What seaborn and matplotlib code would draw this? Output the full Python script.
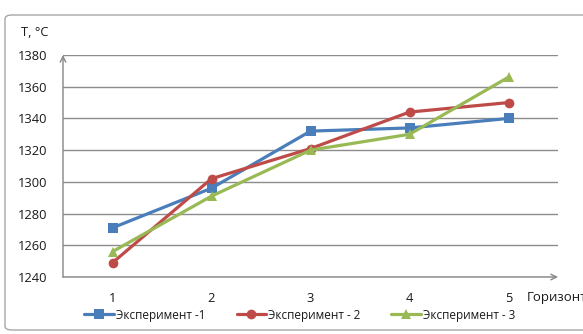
import matplotlib
matplotlib.use("Agg")
import matplotlib.pyplot as plt
import seaborn as sns
import pandas as pd
from matplotlib.patches import FancyBboxPatch

horizons = [1, 2, 3, 4, 5]
exp1 = [1271, 1296, 1332, 1334, 1340]
exp2 = [1249, 1302, 1321, 1344, 1350]
exp3 = [1256, 1291, 1320, 1330, 1366]
series_names = ["Эксперимент -1", "Эксперимент - 2", "Эксперимент - 3"]
yticks = [1240, 1260, 1280, 1300, 1320, 1340, 1360, 1380]

df = pd.concat([
    pd.DataFrame({"Горизонт": horizons, "T": vals, "series": name})
    for name, vals in zip(series_names, [exp1, exp2, exp3])
])

sns.set_style("white")
plt.rcParams["font.family"] = ["Open Sans", "DejaVu Sans"]

colors = ["#4A7EBB", "#BE4B48", "#98B954"]
markers = ["s", "o", "^"]

fig = plt.figure(figsize=(5.83, 3.34), dpi=100)
W, H = 583, 334
ax = fig.add_axes([63 / W, 1 - 277 / H, (558 - 63) / W, (277 - 55) / H])

sns.lineplot(data=df, x="Горизонт", y="T", hue="series", style="series",
             palette=dict(zip(series_names, colors)),
             markers=dict(zip(series_names, markers)), dashes=False,
             linewidth=2.3, markersize=7, markeredgewidth=0, ax=ax)

txtc = "#1a1a1a"
ax.set_xlim(0.5, 5.5)
ax.set_ylim(1240, 1380)
ax.set_yticks(yticks)
ax.set_yticklabels([str(v) for v in yticks], fontsize=9.3, color=txtc)
ax.set_xticks(horizons)
ax.set_xticklabels([str(v) for v in horizons], fontsize=9.3, color=txtc)
ax.set_xticks([0.5, 1.5, 2.5, 3.5, 4.5], minor=True)
ax.tick_params(axis="x", which="major", length=0, pad=11)
ax.tick_params(axis="x", which="minor", length=4, direction="out", color="#868686", width=1)
ax.tick_params(axis="y", which="major", length=5, direction="out", color="#868686", width=1, pad=6)
ax.grid(axis="y", color="#8C8C8C", linewidth=1)
ax.set_axisbelow(True)
for s in ax.spines.values():
    s.set_visible(False)
ax.set_xlabel("")
ax.set_ylabel("")

# axis arrows
ax.annotate("", xy=(0, 1.0), xytext=(0, 0), xycoords="axes fraction",
            arrowprops=dict(arrowstyle="->", color="#868686", lw=1, shrinkA=0, shrinkB=0,
                            mutation_scale=10))
ax.annotate("", xy=(1.0, 0), xytext=(0, 0), xycoords="axes fraction",
            arrowprops=dict(arrowstyle="->", color="#868686", lw=1, shrinkA=0, shrinkB=0,
                            mutation_scale=10))

fig.text(21 / W, 1 - 32 / H, "T, °C", fontsize=9.3, color=txtc, va="center", ha="left")
fig.text(527 / W, 1 - 298 / H, "Горизонт", fontsize=9.5, color=txtc, va="center", ha="left")

handles, labels = ax.get_legend_handles_labels()
ax.get_legend().remove()
fig.legend(handles, labels, loc="center", bbox_to_anchor=(300 / W, 1 - 315 / H), ncol=3,
           frameon=False, fontsize=8.5, handlelength=2.5, handletextpad=0.2, columnspacing=2.6,
           borderaxespad=0, borderpad=0, labelcolor=txtc)

frame = FancyBboxPatch((5 / W, 4 / H), 600 / W, (319 - 4) / H,
                       boxstyle="round,pad=0,rounding_size=0.012",
                       transform=fig.transFigure, fill=False, edgecolor="#A6A6A6", lw=1)
fig.patches.append(frame)

fig.savefig("out.png", dpi=100)
